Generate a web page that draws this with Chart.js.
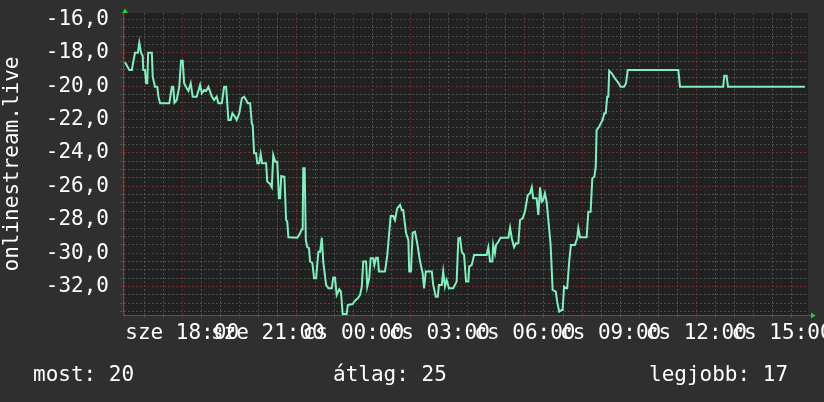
<!DOCTYPE html>
<html><head><meta charset="utf-8">
<script src="https://cdn.jsdelivr.net/npm/chart.js@4/dist/chart.umd.min.js"></script>
<style>
html,body{margin:0;padding:0;background:#2f2f2f;overflow:hidden;}
#wrap{position:relative;width:824px;height:402px;}
canvas{display:block;}
</style></head><body>
<div id="wrap"><canvas id="c" width="824" height="402"></canvas></div>
<script>
// time in hours since Wednesday 00:00 (24 = Thursday 00:00)
const timeHours = [16.00,16.15,16.24,16.29,16.35,16.45,16.50,16.56,16.62,16.64,16.70,16.74,16.78,16.81,16.94,16.97,17.05,17.13,17.17,17.23,17.55,17.64,17.69,17.73,17.81,17.90,17.96,18.02,18.07,18.16,18.22,18.30,18.37,18.51,18.63,18.69,18.77,18.84,18.92,19.04,19.12,19.21,19.27,19.39,19.47,19.54,19.62,19.70,19.76,19.85,19.91,20.00,20.09,20.17,20.24,20.30,20.38,20.44,20.47,20.52,20.59,20.63,20.70,20.75,20.80,20.94,20.98,21.08,21.14,21.19,21.26,21.33,21.39,21.43,21.47,21.58,21.64,21.68,21.72,22.03,22.13,22.19,22.22,22.24,22.29,22.33,22.38,22.44,22.48,22.56,22.62,22.69,22.77,22.83,22.89,22.94,23.04,23.12,23.24,23.29,23.35,23.41,23.50,23.56,23.62,23.76,23.80,23.97,24.05,24.15,24.23,24.29,24.34,24.44,24.48,24.55,24.60,24.69,24.73,24.79,24.85,24.89,25.10,25.18,25.30,25.39,25.45,25.53,25.63,25.69,25.74,25.84,25.92,25.95,26.01,26.07,26.15,26.23,26.33,26.42,26.47,26.53,26.74,26.79,26.88,26.95,26.99,27.09,27.14,27.20,27.26,27.34,27.49,27.61,27.67,27.73,27.79,27.87,27.94,28.02,28.05,28.14,28.22,28.66,28.72,28.78,28.86,28.89,28.95,28.99,29.07,29.15,29.42,29.48,29.54,29.62,29.69,29.77,29.83,29.92,30.00,30.10,30.18,30.24,30.29,30.41,30.47,30.53,30.59,30.64,30.70,30.76,30.82,30.90,30.97,31.08,31.13,31.20,31.29,31.32,31.37,31.44,31.48,31.55,31.61,31.75,31.83,31.87,31.93,32.16,32.22,32.30,32.36,32.43,32.48,32.51,32.59,32.72,32.78,32.83,32.88,32.92,32.95,33.04,33.15,33.27,33.35,33.47,33.54,33.60,35.37,35.43,36.94,36.98,37.06,37.11,39.80];
const values = [-18.57,-19.04,-19.04,-18.54,-18.0,-18.0,-17.40,-18.0,-18.20,-19.04,-19.04,-19.83,-19.83,-18.0,-18.0,-19.44,-20.04,-20.04,-20.63,-21.03,-21.03,-20.04,-20.04,-20.99,-20.83,-20.04,-18.48,-18.48,-19.83,-20.13,-20.29,-19.83,-20.63,-20.63,-19.93,-20.43,-20.23,-20.29,-20.04,-20.63,-20.83,-20.63,-21.03,-21.03,-20.04,-20.04,-22.03,-22.03,-21.63,-21.83,-22.03,-21.63,-20.73,-20.63,-20.83,-21.03,-21.03,-22.23,-22.33,-24.02,-24.02,-24.62,-24.62,-24.07,-24.62,-24.62,-25.72,-25.86,-26.06,-24.13,-24.53,-24.53,-26.72,-26.72,-25.38,-25.43,-28.02,-28.12,-29.05,-29.08,-28.81,-28.57,-28.57,-24.92,-24.92,-29.22,-29.65,-29.71,-30.51,-30.61,-31.51,-31.51,-29.92,-29.92,-29.08,-30.51,-31.91,-32.11,-32.11,-31.47,-31.47,-32.51,-32.17,-32.31,-33.65,-33.65,-33.11,-33.05,-32.85,-32.71,-32.51,-32.01,-30.51,-30.51,-32.01,-31.51,-30.31,-30.31,-30.71,-30.28,-30.28,-31.11,-31.11,-30.17,-27.78,-27.78,-28.02,-27.32,-27.12,-27.42,-27.42,-28.81,-29.22,-31.11,-31.11,-28.78,-28.72,-29.41,-30.51,-31.21,-32.11,-31.11,-31.11,-31.91,-32.61,-32.61,-31.91,-31.91,-31.11,-32.01,-31.61,-32.11,-32.11,-31.71,-29.11,-29.08,-29.92,-30.11,-31.71,-31.71,-30.81,-30.71,-30.11,-30.11,-29.65,-30.51,-30.51,-29.51,-30.01,-29.51,-29.32,-29.08,-29.08,-28.48,-29.11,-29.65,-29.41,-29.41,-28.02,-27.92,-27.52,-26.52,-26.42,-26.06,-26.72,-26.72,-27.72,-26.06,-26.92,-26.82,-26.42,-26.92,-28.02,-29.51,-32.21,-32.31,-32.91,-33.51,-33.41,-33.41,-32.01,-32.11,-32.11,-30.51,-29.51,-29.51,-29.11,-28.51,-29.05,-29.05,-27.52,-27.52,-25.52,-25.43,-24.83,-22.63,-22.45,-22.03,-21.63,-21.63,-20.63,-20.63,-19.08,-19.23,-19.53,-19.80,-20.04,-20.04,-19.83,-19.04,-19.04,-20.04,-20.04,-19.38,-19.38,-20.04,-20.04];
const xLabelHours = [18,21,24,27,30,33,36,39];
const xLabelTexts = ['sze 18:00','sze 21:00','cs 00:00','cs 03:00','cs 06:00','cs 09:00','cs 12:00','cs 15:00'];
const yLabelValues = [-32,-30,-28,-26,-24,-22,-20,-18,-16];
const yAxisTitle = 'onlinestream.live';
const summaryTexts = ['most: 20','átlag: 25','legjobb: 17'];

const FONT = "'DejaVu Sans Mono', monospace";
const RED = '#6e2c2c', GRAY = '#4e4e4e', AXIS = '#555555';

const points = timeHours.map((t,i)=>({x:t,y:values[i]}));

function onMinorX(v){ const k=v*1.5; return Math.abs(k-Math.round(k))<1e-9; }

const bgPlugin = {
  id:'bg',
  beforeDraw(chart){
    const {ctx, chartArea:a} = chart;
    ctx.save();
    ctx.fillStyle='#2f2f2f'; ctx.fillRect(0,0,chart.width,chart.height);
    ctx.fillStyle='#212121'; ctx.fillRect(a.left,a.top,a.right-a.left,a.bottom-a.top);
    ctx.restore();
  },
  afterDraw(chart){
    const {ctx, chartArea:a} = chart;
    ctx.save();
    // axis extension + arrows
    ctx.strokeStyle=AXIS; ctx.lineWidth=1;
    ctx.beginPath(); ctx.moveTo(a.left, a.bottom+0.5); ctx.lineTo(a.right+4, a.bottom+0.5); ctx.stroke();
    ctx.fillStyle='#1ed81e';
    ctx.beginPath(); ctx.moveTo(a.left-1,a.top); ctx.lineTo(a.left+5,a.top); ctx.lineTo(a.left+2,a.top-4.5); ctx.closePath(); ctx.fill();
    ctx.beginPath(); ctx.moveTo(a.right+3,a.bottom-2.5); ctx.lineTo(a.right+3,a.bottom+3.5); ctx.lineTo(a.right+7.5,a.bottom+0.5); ctx.closePath(); ctx.fill();
    // summary line
    ctx.fillStyle='#ffffff'; ctx.font='21px '+FONT; ctx.textBaseline='alphabetic';
    ctx.textAlign='left';
    ctx.fillText(summaryTexts[0], 33, 381);
    ctx.fillText(summaryTexts[1], 333, 381);
    ctx.fillText(summaryTexts[2], 649, 381);
    ctx.restore();
  }
};

new Chart(document.getElementById('c'), {
  type:'line',
  data:{ datasets:[{ data:points, borderColor:'#7ff0bf', borderWidth:2, pointRadius:0, tension:0, fill:false }]},
  options:{
    responsive:false, animation:false, devicePixelRatio:1,
    layout:{ padding:{ left:0, top:13, right:16, bottom:0 } },
    plugins:{ legend:{display:false}, tooltip:{enabled:false} },
    scales:{
      x:{
        type:'linear', min:15.93, max:39.91,
        afterBuildTicks(scale){
          const t=[];
          for(let k=24;k<=59;k++) t.push((2*k)/3);
          xLabelHours.forEach(h=>{ if(!onMinorX(h)) t.push(h); });
          t.sort((a,b)=>a-b);
          scale.ticks=t.map(v=>({value:v}));
        },
        afterFit(scale){ scale.height=87; scale.paddingLeft=0; scale.paddingRight=0; },
        grid:{
          color(ctx){ const v=ctx.tick&&ctx.tick.value; if(v===undefined) return GRAY;
            if(!onMinorX(v)) return 'rgba(0,0,0,0)';
            return (Number.isInteger(v) && v%2===0) ? RED : GRAY; },
          lineWidth:1, drawTicks:true, tickLength:3
        },
        border:{ display:true, color:AXIS, width:1, dash:[2,2] },
        ticks:{
          autoSkip:false, maxRotation:0, minRotation:0, padding:3, color:'#ffffff',
          font:{ family:FONT, size:21 },
          callback(v){ const i=xLabelHours.indexOf(v); return i>=0 ? xLabelTexts[i] : ''; }
        }
      },
      y:{
        type:'linear', min:-33.71, max:-15.62,
        afterBuildTicks(scale){
          const t=[]; for(let k=-67;k<=-32;k++) t.push(k/2);
          scale.ticks=t.map(v=>({value:v}));
        },
        afterFit(scale){ scale.width=123; scale.paddingTop=0; scale.paddingBottom=0; },
        grid:{
          color(ctx){ const v=ctx.tick&&ctx.tick.value; if(v===undefined) return GRAY;
            return yLabelValues.includes(v) ? RED : GRAY; },
          lineWidth:1, drawTicks:true, tickLength:3
        },
        border:{ display:true, color:AXIS, width:1, dash:[2,2] },
        title:{ display:true, text:yAxisTitle, color:'#ffffff', font:{family:FONT,size:21}, padding:0 },
        ticks:{
          autoSkip:false, padding:11, color:'#ffffff', font:{ family:FONT, size:21 },
          callback(v){ return yLabelValues.includes(v) ? v.toFixed(1).replace('.',',') : ''; }
        }
      }
    }
  },
  plugins:[bgPlugin]
});
</script>
</body></html>
